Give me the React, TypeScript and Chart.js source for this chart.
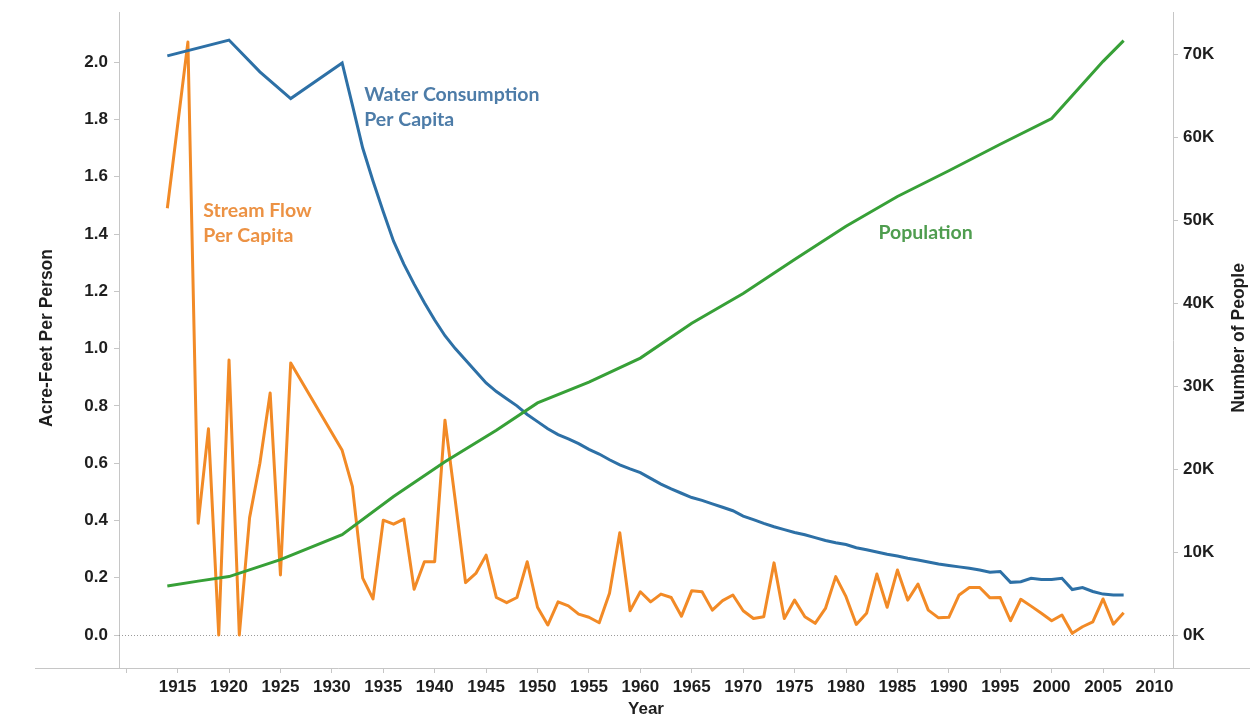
import React, { useEffect, useRef } from 'react';
import { Chart, registerables } from 'chart.js';

Chart.register(...registerables);

// ---------- DATA ----------
const streamYears = [
  1914, 1916, 1917, 1918, 1919, 1920, 1921, 1922, 1923, 1924, 1925, 1926,
  1931, 1932, 1933, 1934, 1935, 1936, 1937, 1938, 1939, 1940, 1941, 1942, 1943,
  1944, 1945, 1946, 1947, 1948, 1949, 1950, 1951, 1952, 1953, 1954, 1955, 1956,
  1957, 1958, 1959, 1960, 1961, 1962, 1963, 1964, 1965, 1966, 1967, 1968, 1969,
  1970, 1971, 1972, 1973, 1974, 1975, 1976, 1977, 1978, 1979, 1980, 1981, 1982,
  1983, 1984, 1985, 1986, 1987, 1988, 1989, 1990, 1991, 1992, 1993, 1994, 1995,
  1996, 1997, 1998, 1999, 2000, 2001, 2002, 2003, 2004, 2005, 2006, 2007,
];
const streamFlow = [
  1.49, 2.07, 0.39, 0.72, 0.0, 0.96, 0.0, 0.41, 0.6, 0.845, 0.21, 0.95,
  0.645, 0.518, 0.199, 0.126, 0.401, 0.387, 0.405, 0.16, 0.256, 0.256, 0.75, 0.47, 0.183,
  0.215, 0.279, 0.131, 0.113, 0.131, 0.256, 0.097, 0.035, 0.116, 0.102, 0.073, 0.062, 0.043,
  0.146, 0.357, 0.085, 0.151, 0.116, 0.143, 0.131, 0.066, 0.155, 0.151, 0.087, 0.12, 0.14,
  0.085, 0.058, 0.064, 0.252, 0.058, 0.122, 0.064, 0.041, 0.093, 0.204, 0.134, 0.037, 0.076,
  0.213, 0.097, 0.227, 0.122, 0.178, 0.087, 0.06, 0.062, 0.14, 0.166, 0.166, 0.13, 0.131,
  0.05, 0.125, 0.101, 0.076, 0.05, 0.07, 0.006, 0.029, 0.046, 0.126, 0.038, 0.078,
];

const waterYears = [
  1914, 1920, 1923, 1926, 1931, 1932, 1933, 1934, 1935, 1936, 1937, 1938, 1939,
  1940, 1941, 1942, 1943, 1944, 1945, 1946, 1947, 1948, 1949, 1950, 1951, 1952,
  1953, 1954, 1955, 1956, 1957, 1958, 1959, 1960, 1961, 1962, 1963, 1964, 1965,
  1966, 1967, 1968, 1969, 1970, 1971, 1972, 1973, 1974, 1975, 1976, 1977, 1978,
  1979, 1980, 1981, 1982, 1983, 1984, 1985, 1986, 1987, 1988, 1989, 1990, 1991,
  1992, 1993, 1994, 1995, 1996, 1997, 1998, 1999, 2000, 2001, 2002, 2003, 2004,
  2005, 2006, 2007,
];
const waterConsumption = [
  2.022, 2.077, 1.966, 1.873, 1.997, 1.85, 1.7, 1.585, 1.478, 1.375, 1.295, 1.225, 1.16,
  1.1, 1.045, 1.0, 0.96, 0.92, 0.88, 0.85, 0.825, 0.8, 0.77, 0.745, 0.72, 0.7,
  0.685, 0.668, 0.648, 0.632, 0.612, 0.594, 0.58, 0.567, 0.547, 0.527, 0.51, 0.495, 0.48,
  0.47, 0.458, 0.446, 0.434, 0.415, 0.403, 0.39, 0.378, 0.368, 0.358, 0.35, 0.34, 0.33,
  0.322, 0.316, 0.305, 0.298, 0.29, 0.282, 0.276, 0.268, 0.262, 0.255, 0.248, 0.243, 0.238,
  0.233, 0.227, 0.219, 0.222, 0.184, 0.186, 0.198, 0.194, 0.194, 0.198, 0.159, 0.166, 0.152,
  0.143, 0.14, 0.14,
];

const popYears = [
  1914, 1917, 1920, 1925, 1931, 1936, 1941, 1946, 1950, 1955, 1960, 1965, 1970,
  1975, 1980, 1985, 1990, 1995, 2000, 2005, 2007,
];
const population = [
  5900, 6500, 7050, 9100, 12100, 16700, 20900, 24700, 28000, 30500, 33400, 37600, 41200,
  45300, 49300, 52900, 56000, 59200, 62300, 69200, 71700,
];

const xTicks = [1910, 1915, 1920, 1925, 1930, 1935, 1940, 1945, 1950, 1955, 1960, 1965, 1970,
  1975, 1980, 1985, 1990, 1995, 2000, 2005, 2010];
const leftTicks = [0, 0.2, 0.4, 0.6, 0.8, 1.0, 1.2, 1.4, 1.6, 1.8, 2.0];
const rightTicks = [0, 10000, 20000, 30000, 40000, 50000, 60000, 70000];

// ---------- STYLE ----------
const BLUE = '#2d70a6';
const ORANGE = '#f28a26';
const GREEN = '#37a037';
const TICK_FONT = { family: '"Liberation Sans", Arial, sans-serif', size: 17, weight: 'bold' as const };
const AXIS_COLOR = '#c6c6c6';
const TEXT_COLOR = '#1e1e1e';

const toPoints = (xs: number[], ys: number[]) => xs.map((x, i) => ({ x, y: ys[i] }));

const noVPad = (w: number) => (s: any) => {
  s.width = w;
  s.paddingTop = 0;
  s.paddingBottom = 0;
};

const overlayPlugin = {
  id: 'overlay',
  beforeDatasetsDraw(chart: any) {
    const { ctx, chartArea, scales } = chart;
    const y0 = scales.yLeft.getPixelForValue(0);
    ctx.save();
    ctx.strokeStyle = '#9a9a9a';
    ctx.lineWidth = 1;
    ctx.setLineDash([1, 2]);
    ctx.beginPath();
    ctx.moveTo(chartArea.left, Math.round(y0) + 0.5);
    ctx.lineTo(chartArea.right, Math.round(y0) + 0.5);
    ctx.stroke();
    ctx.setLineDash([]);
    ctx.strokeStyle = AXIS_COLOR;
    ctx.beginPath();
    ctx.moveTo(35, Math.round(chartArea.bottom) + 0.5);
    ctx.lineTo(chart.width, Math.round(chartArea.bottom) + 0.5);
    ctx.stroke();
    ctx.restore();
  },
  afterDraw(chart: any) {
    const { ctx, chartArea, scales } = chart;
    const xs = scales.x;
    const yl = scales.yLeft;
    ctx.save();
    // axis titles
    ctx.fillStyle = TEXT_COLOR;
    ctx.font = 'bold 17.5px "Liberation Sans", Arial, sans-serif';
    ctx.textAlign = 'center';
    ctx.textBaseline = 'middle';
    const midY = (chartArea.top + chartArea.bottom) / 2 - 2;
    ctx.save();
    ctx.translate(47, midY);
    ctx.rotate(-Math.PI / 2);
    ctx.fillText('Acre-Feet Per Person', 0, 0);
    ctx.restore();
    ctx.save();
    ctx.translate(1239, midY);
    ctx.rotate(-Math.PI / 2);
    ctx.fillText('Number of People', 0, 0);
    ctx.restore();
    ctx.font = 'bold 17px "Liberation Sans", Arial, sans-serif';
    ctx.textBaseline = 'alphabetic';
    ctx.fillText('Year', (chartArea.left + chartArea.right) / 2, 714);

    // series labels
    ctx.font = 'bold 19.5px Lato, "Open Sans", sans-serif';
    ctx.textAlign = 'left';
    const label = (lines: string[], x: number, y: number, color: string) => {
      ctx.fillStyle = color;
      const px = xs.getPixelForValue(x);
      const py = yl.getPixelForValue(y);
      lines.forEach((t, i) => ctx.fillText(t, px, py + i * 25));
    };
    label(['Water Consumption', 'Per Capita'], 1933.15, 1.864, '#4d7ca8');
    label(['Stream Flow', 'Per Capita'], 1917.5, 1.459, '#ec9244');
    label(['Population'], 1983.15, 1.382, '#4f9d4f');
    ctx.restore();
  },
};

export default function App() {
  const canvasRef = useRef<HTMLCanvasElement | null>(null);

  useEffect(() => {
    if (!canvasRef.current) return;
    const chart = new Chart(canvasRef.current, {
      type: 'line',
      data: {
        datasets: [
          {
            label: 'Population',
            data: toPoints(popYears, population),
            yAxisID: 'yRight',
            borderColor: GREEN,
            borderWidth: 3,
            pointRadius: 0,
            tension: 0,
          },
          {
            label: 'Water Consumption Per Capita',
            data: toPoints(waterYears, waterConsumption),
            yAxisID: 'yLeft',
            borderColor: BLUE,
            borderWidth: 3,
            pointRadius: 0,
            tension: 0,
          },
          {
            label: 'Stream Flow Per Capita',
            data: toPoints(streamYears, streamFlow),
            yAxisID: 'yLeft',
            borderColor: ORANGE,
            borderWidth: 3,
            pointRadius: 0,
            tension: 0,
            borderJoinStyle: 'round',
          },
        ],
      },
      options: {
        animation: false,
        responsive: true,
        maintainAspectRatio: false,
        layout: { padding: { top: 12, left: 0, right: 0, bottom: 0 } },
        plugins: {
          legend: { display: false },
          tooltip: { enabled: false },
        },
        scales: {
          x: {
            type: 'linear',
            position: 'bottom',
            min: 1909.3,
            max: 2011.8,
            afterFit: (s: any) => { s.height = 49; s.paddingLeft = 0; s.paddingRight = 0; },
            afterBuildTicks: (s: any) => { s.ticks = xTicks.map((v) => ({ value: v })); },
            ticks: {
              font: TICK_FONT,
              color: TEXT_COLOR,
              padding: 4,
              maxRotation: 0,
              autoSkip: false,
              callback: (v: any) => (v === 1910 ? '' : String(v)),
            },
            grid: { drawOnChartArea: false, drawTicks: true, tickLength: 5, tickColor: AXIS_COLOR },
            border: { display: false },
          },
          yLeft: {
            type: 'linear',
            position: 'left',
            min: -0.115,
            max: 2.175,
            afterFit: noVPad(119),
            afterBuildTicks: (s: any) => { s.ticks = leftTicks.map((v) => ({ value: v })); },
            ticks: {
              font: TICK_FONT,
              color: TEXT_COLOR,
              padding: 6,
              callback: (v: any) => Number(v).toFixed(1),
            },
            grid: { drawOnChartArea: false, drawTicks: true, tickLength: 5, tickColor: AXIS_COLOR },
            border: { display: true, color: AXIS_COLOR, width: 1 },
          },
          yRight: {
            type: 'linear',
            position: 'right',
            min: -3980,
            max: 75150,
            afterFit: noVPad(77),
            afterBuildTicks: (s: any) => { s.ticks = rightTicks.map((v) => ({ value: v })); },
            ticks: {
              font: TICK_FONT,
              color: TEXT_COLOR,
              padding: 5,
              callback: (v: any) => `${Math.round(Number(v) / 1000)}K`,
            },
            grid: { drawOnChartArea: false, drawTicks: true, tickLength: 5, tickColor: AXIS_COLOR },
            border: { display: true, color: AXIS_COLOR, width: 1 },
          },
        },
      },
      plugins: [overlayPlugin],
    } as any);
    return () => chart.destroy();
  }, []);

  return (
    <div style={{ position: 'fixed', left: 0, top: 0, width: 1250, height: 717, background: '#fff' }}>
      <canvas ref={canvasRef} />
    </div>
  );
}
